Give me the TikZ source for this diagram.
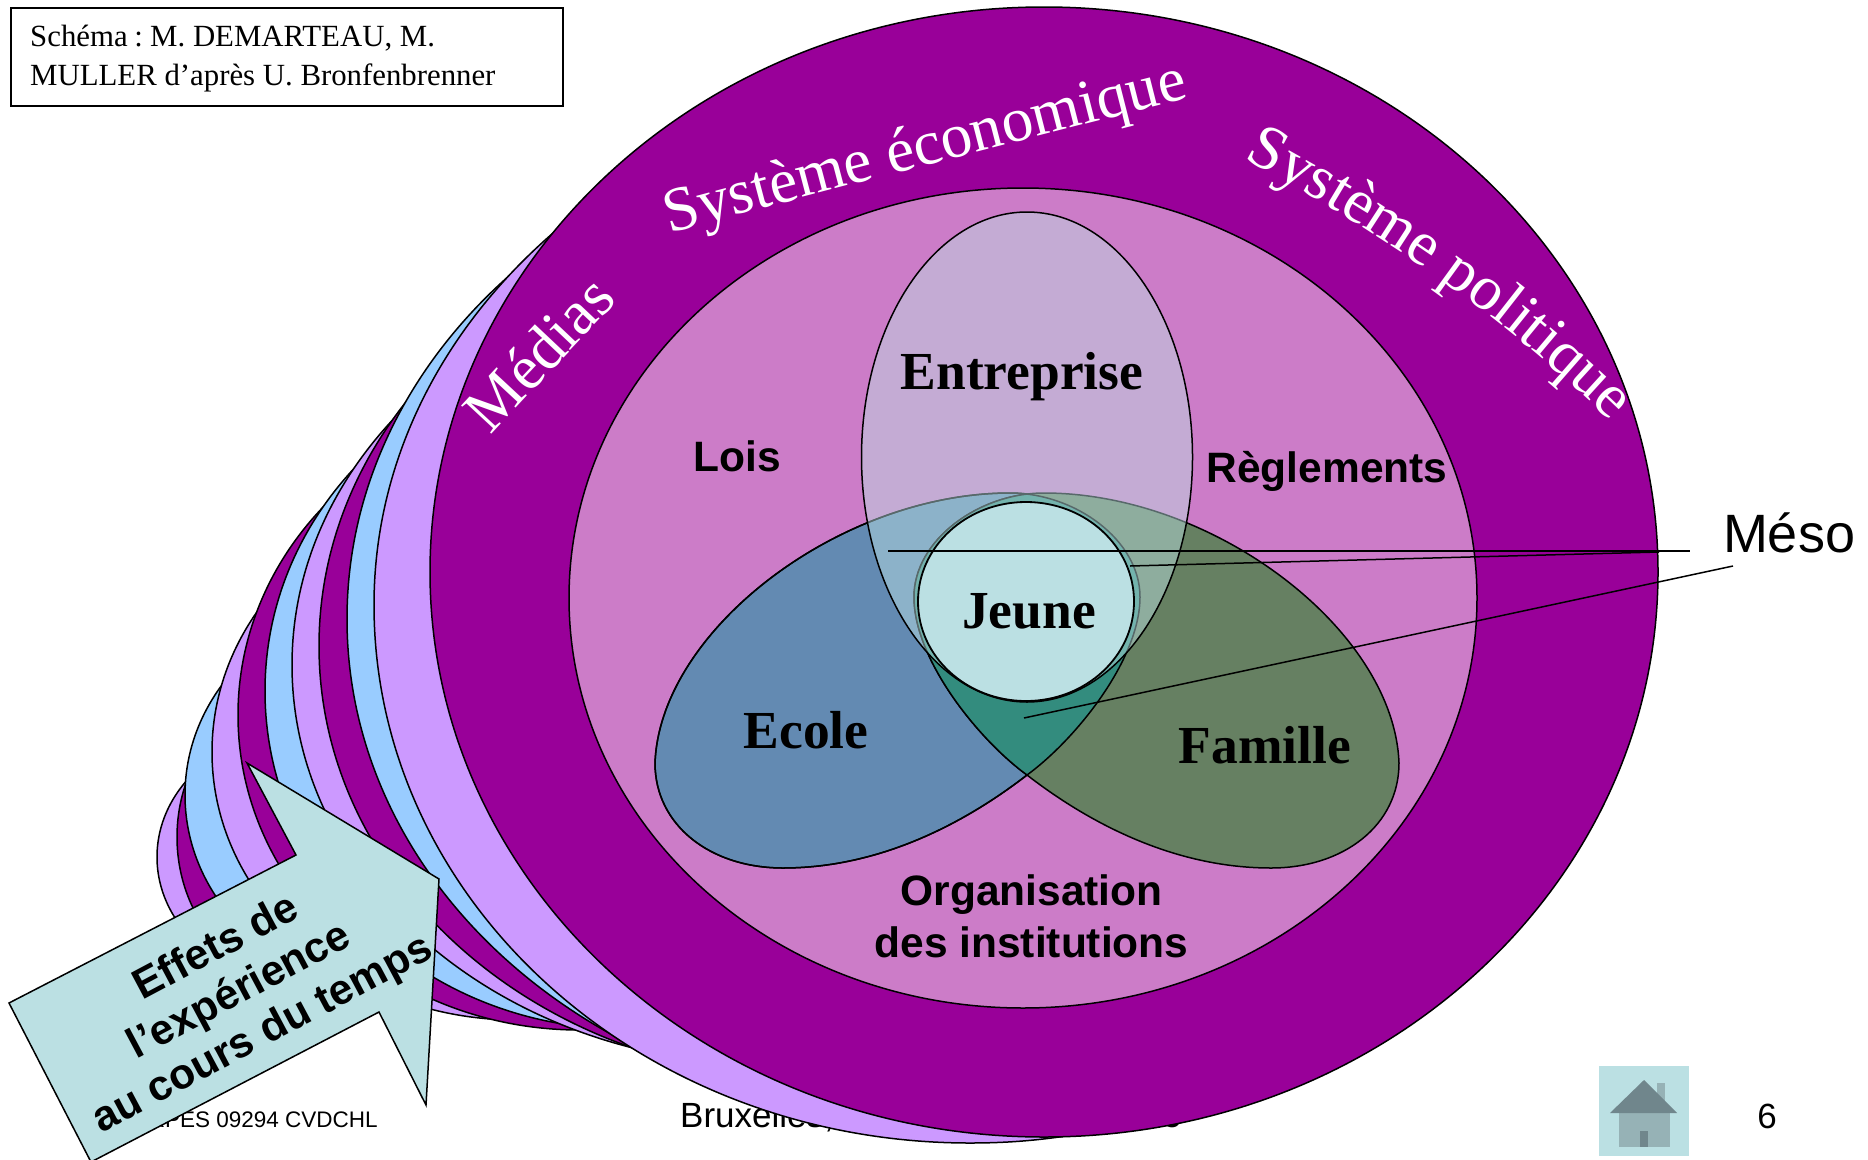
\documentclass[tikz,border=0pt]{standalone}
\usepackage{fontspec}
\usetikzlibrary{decorations.text}
\setmainfont{Liberation Serif}
\newfontfamily\arialf{Liberation Sans}
\newfontfamily\timesf{Liberation Serif}
\definecolor{cmain}{HTML}{990099}
\definecolor{clilac}{HTML}{CC99FF}
\definecolor{cblue}{HTML}{99CCFF}
\definecolor{cpink}{HTML}{CC7CC8}
\definecolor{cecole}{HTML}{638AB2}
\definecolor{cfam}{HTML}{668062}
\definecolor{clens}{HTML}{338C7E}
\definecolor{cpale}{HTML}{BBE0E3}
\definecolor{croof}{HTML}{70868C}
\definecolor{cbody}{HTML}{96B2B6}
\tikzset{
  outl/.style={draw=black,line width=1.5pt},
  band/.style={outl,fill=#1},
  lab/.style={inner sep=0,anchor=base,font=\arialf\bfseries\fontsize{42.5}{50}\selectfont},
  tlab/.style={inner sep=0,anchor=base,font=\timesf\bfseries\fontsize{53.5}{60}\selectfont},
  leader/.style={draw=black,line width=1.5pt},
  ecolepath/.style={insert path={(655,763) .. controls (660,630) and (840,493) .. (1010,493) .. controls (1075,493) and (1140,540) .. (1140,597) .. controls (1140,660) and (1075,740) .. (1027,775) .. controls (965,823) and (880,868) .. (783,868) .. controls (710,868) and (655,825) .. (655,763) -- cycle}},
  famillepath/.style={insert path={(1399,763) .. controls (1394,630) and (1214,493) .. (1044,493) .. controls (979,493) and (914,540) .. (914,597) .. controls (914,660) and (979,740) .. (1027,775) .. controls (1089,823) and (1174,868) .. (1271,868) .. controls (1344,868) and (1399,825) .. (1399,763) -- cycle}},
}
\newcommand{\sysf}{\timesf\fontsize{63}{63}\selectfont\color{white}}
\begin{document}
\begin{tikzpicture}[x=1pt,y=-1pt]
\useasboundingbox (0,0) rectangle (1868,1159);
\clip (0,0) rectangle (1868,1159);
\fill[white] (0,0) rectangle (1868,1159);
% footer
\node[inner sep=0,anchor=base east,font=\arialf\fontsize{22.5}{26}\selectfont] (ref) at (378,1127) {CRPES 09294 CVDCHL};
\node[inner sep=0,anchor=base west,font=\arialf\fontsize{35}{40}\selectfont] (brux) at (680,1127) {Bruxelles,};
\node[inner sep=0,anchor=base,font=\arialf\fontsize{35}{40}\selectfont] (footo) at (1172,1127) {o};
\node[inner sep=0,anchor=base,font=\arialf\fontsize{35}{40}\selectfont] (pnum) at (1767,1128) {6};
% stack, back to front
\draw[band=clilac] (312,857) ellipse [x radius=155,y radius=130];
\draw[band=cmain] (312,837) ellipse [x radius=135,y radius=150];
\draw[band=cblue] (409,795) ellipse [x radius=224,y radius=200];
\draw[band=clilac] (517,752) ellipse [x radius=305,y radius=268];
\draw[band=cmain] (580,715) ellipse [x radius=342,y radius=315];
\draw[band=cblue] (625,691) ellipse [x radius=360,y radius=338];
\draw[band=clilac] (772,665) ellipse [x radius=480,y radius=400];
\draw[band=cmain] (819,646) ellipse [x radius=500,y radius=433];
\draw[band=cblue] (927,619) ellipse [x radius=580,y radius=495];
\draw[band=clilac] (374,605) .. controls (374,311) and (656,72) .. (1005,72) -- (1100,1130) .. controls (1050,1140) and (1010,1143) .. (970,1143) .. controls (641,1143) and (374,902) .. (374,605) -- cycle;
\draw[band=cmain] (1044,572) ellipse [x radius=614,y radius=565];
\draw[band=cpink] (1023,598) ellipse [x radius=454,y radius=410];
% venn
\draw[band=cecole,ecolepath];
\draw[band=cfam,famillepath];
\begin{scope}
\clip[ecolepath];
\draw[band=clens,famillepath];
\end{scope}
\draw[outl,ecolepath];
\fill[cpale,opacity=.47] (1027,457) ellipse [x radius=165.5,y radius=245];
\draw[outl] (1027,457) ellipse [x radius=165.5,y radius=245];
\draw[outl,fill=cpale,line width=1.8pt] (1026,601.5) ellipse [x radius=108,y radius=99.5];
% leaders
\coordinate (m1a) at (888,551);
\coordinate (m1b) at (1690,551);
\coordinate (m2a) at (1130,566);
\coordinate (m2b) at (1659,552);
\coordinate (m3a) at (1024,718);
\coordinate (m3b) at (1733,566);
\draw[leader] (m1a) -- (m1b);
\draw[leader] (m2a) -- (m2b);
\draw[leader] (m3a) -- (m3b);
% white curved labels
\coordinate (e1) at (659,236);
\coordinate (e2) at (1200,95);
\path[decorate,decoration={text along path,text align=center,text={|\sysf|Système économique}}] (e1) .. controls (830,190) and (1010,143) .. (e2);
\coordinate (p1) at (1235,154);
\coordinate (p2) at (1618,428);
\path[decorate,decoration={text along path,text align=center,text={|\sysf|Système politique}}] (p1) .. controls (1370,225) and (1500,312) .. (p2);
\coordinate (d1) at (487,440);
\coordinate (d2) at (622,296);
\path[decorate,decoration={text along path,text align=center,text={|\sysf|Médias}}] (d1) .. controls (530,393) and (578,343) .. (d2);
% labels
\node[tlab] (entr) at (1022,389) {Entreprise};
\node[tlab] (jeune) at (1029,628) {Jeune};
\node[tlab] (ecole) at (806,748) {Ecole};
\node[tlab] (famille) at (1265,763) {Famille};
\node[lab] (lois) at (737,471) {Lois};
\node[lab] (regl) at (1327,482) {Règlements};
\node[lab] (org1) at (1031.5,905) {Organisation};
\node[lab] (org2) at (1031.5,957) {des institutions};
\node[inner sep=0,anchor=base,font=\arialf\fontsize{54}{60}\selectfont] (meso) at (1789,552) {Méso};
% source box
\node[draw=black,line width=1.5pt,fill=white,minimum width=552pt,minimum height=98pt,inner sep=0,anchor=north west] (src) at (10,7) {};
\node[inner sep=0,anchor=base west,font=\timesf\fontsize{30.8}{39}\selectfont] (src1) at (30,46) {Schéma\hspace{-1pt} : \hspace{-3pt}M. DEMARTEAU, M.};
\node[inner sep=0,anchor=base west,font=\timesf\fontsize{30.8}{39}\selectfont] (src2) at (30,85) {MULLER d’après U. Bronfenbrenner};
% arrow
\draw[outl,fill=cpale] (247,763) -- (439,879) -- (426,1105) -- (379,1012) -- (91,1162) -- (9,1003) -- (296,855) -- cycle;
\node[rotate=28,inner sep=0,align=center,font=\arialf\bfseries\fontsize{42.5}{49}\selectfont] (fx) at (240,992) {Effets de\\l’expérience\\au cours du temps};
% home button
\fill[cpale] (1599,1066) rectangle (1689,1156);
\fill[cbody] (1657,1083) rectangle (1665,1105);
\fill[cbody] (1619,1113) rectangle (1670,1147);
\fill[croof] (1640,1131) rectangle (1648,1147);
\fill[croof] (1644,1080) -- (1677,1113) -- (1610,1113) -- cycle;
\end{tikzpicture}
\end{document}
